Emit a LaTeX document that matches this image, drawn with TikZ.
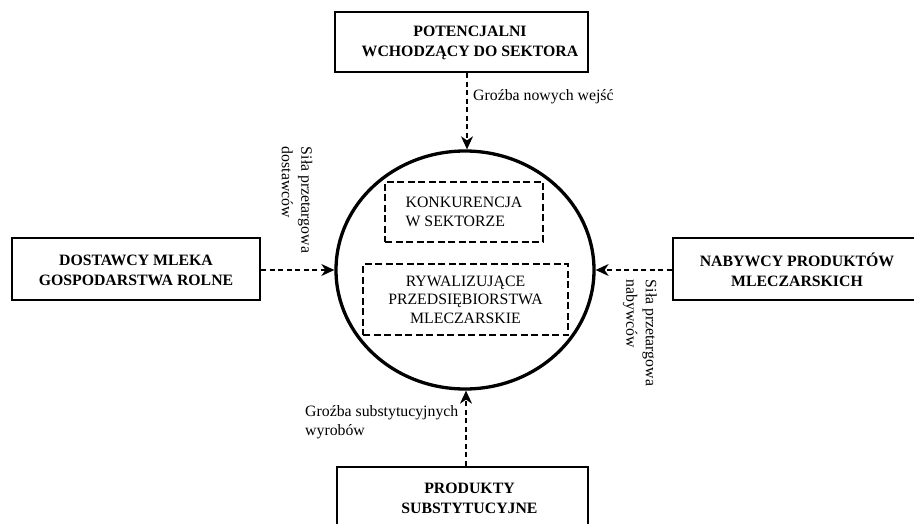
\documentclass[tikz,border=0pt]{standalone}
\usepackage{fontspec}
\setmainfont{Liberation Serif}
\usetikzlibrary{arrows.meta,shapes.geometric}
\begin{document}
\begin{tikzpicture}[x=1pt,y=-1pt,
  box/.style={draw, line width=2.3pt, inner sep=0pt},
  boxtext/.style={align=center, inner sep=0pt, font=\fontsize{15.8}{20}\selectfont\bfseries},
  dbox/.style={draw, dash pattern=on 7pt off 3.5pt, line width=2pt, inner sep=0pt, font=\fontsize{15.8}{18.5}\selectfont},
  lbl/.style={inner sep=0pt, align=left, font=\fontsize{15.8}{19.5}\selectfont},
  arr/.style={line width=1.3pt, dash pattern=on 5pt off 3.5pt, -{Stealth[length=13pt,width=12pt,inset=4pt]}},
]
\useasboundingbox (0,0) rectangle (914,524);
\node[ellipse, draw, line width=3.3pt, minimum width=258pt, minimum height=238pt, inner sep=0pt] (comp) at (465,270) {};
% boxes
\node[box, minimum width=253pt, minimum height=60pt] (pot) at (461.5,42) {};
\node[boxtext] (pott) at (470,43) {POTENCJALNI\\WCHODZĄCY DO SEKTORA};
\node[box, minimum width=248pt, minimum height=62pt] (dost) at (136,269) {};
\node[boxtext] (dostt) at (136,270) {DOSTAWCY MLEKA\\GOSPODARSTWA ROLNE};
\node[box, minimum width=249pt, minimum height=62pt] (nab) at (797.5,269) {};
\node[boxtext] (nabt) at (797,270) {NABYWCY PRODUKTÓW\\MLECZARSKICH};
\node[box, minimum width=251pt, minimum height=61pt] (sub) at (462.5,497.5) {};
\node[boxtext] (subt) at (469.5,498) {PRODUKTY\\SUBSTYTUCYJNE};
% inner dashed boxes
\node[dbox, minimum width=158pt, minimum height=60pt, align=left] (konk) at (464,212) {KONKURENCJA\\W SEKTORZE};
\node[dbox, minimum width=205pt, minimum height=71pt, align=center] (ryw) at (465.5,299.5) {RYWALIZUJĄCE\\PRZEDSIĘBIORSTWA\\MLECZARSKIE};
% connectors
\coordinate (ctop) at (467,0);
\coordinate (cbot) at (466,0);
\draw[arr] (ctop |- pot.south) -- (ctop |- comp.north);
\draw[arr] (dost.east |- comp.west) -- (comp.west);
\draw[arr] (nab.west |- comp.east) -- (comp.east);
\draw[arr] (cbot |- sub.north) -- (cbot |- comp.south);
% labels
\node[lbl, anchor=west] (gn) at (473,97) {Groźba nowych wejść};
\node[lbl, rotate=-90] (sd) at (297,200) {Siła przetargowa\\dostawców};
\node[lbl, rotate=-90] (sn) at (640,333) {Siła przetargowa\\nabywców};
\node[lbl, anchor=west] (gs) at (305,422) {Groźba substytucyjnych\\wyrobów};
\end{tikzpicture}
\end{document}
